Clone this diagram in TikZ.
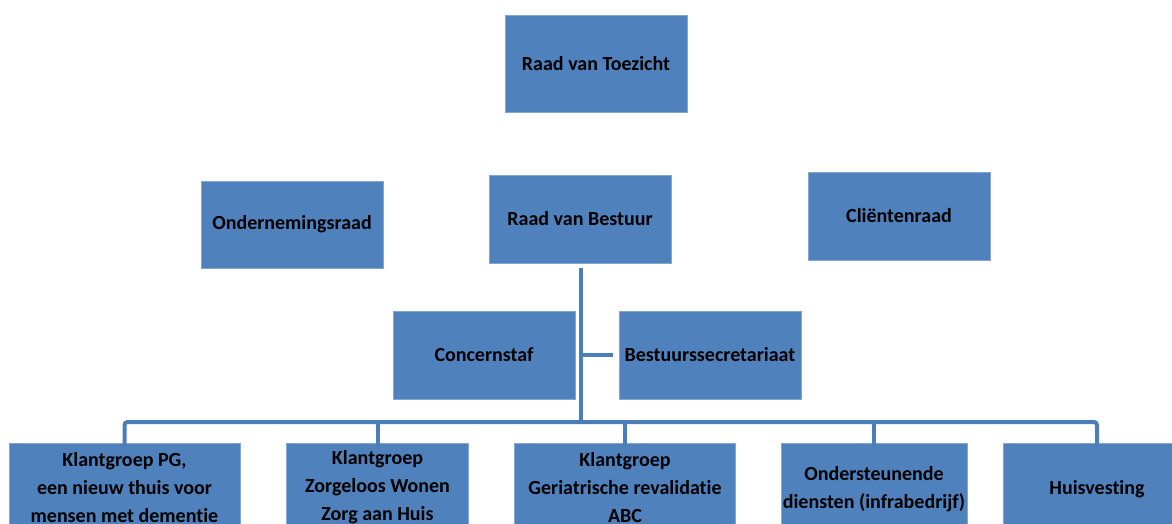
\documentclass[tikz,border=0pt]{standalone}
\usepackage{fontspec}
\setmainfont{Carlito}[Ligatures=NoCommon]
\definecolor{boxblue}{HTML}{4F81BD}
\definecolor{lineblue}{HTML}{4A7EBB}
\begin{document}
\begin{tikzpicture}[x=1pt,y=-1pt,
  box/.style={fill=boxblue, draw=boxblue!70!white, line width=0.6pt, inner sep=0pt,
    align=center, font=\bfseries\fontsize{20}{28}\selectfont, text=black},
  conn/.style={draw=lineblue, line width=4pt}]
\useasboundingbox (0,0) rectangle (1172,524);
\clip (0,0) rectangle (1172,524);
% top nodes
\node[box, minimum width=182pt, minimum height=97pt] (rvt) at (596,63.5) {Raad van Toezicht};
\node[box, minimum width=182pt, minimum height=87pt] (or) at (292,224.5) {Ondernemingsraad};
\node[box, minimum width=182pt, minimum height=88pt] (rvb) at (580,219) {Raad van Bestuur};
\node[box, minimum width=182pt, minimum height=88pt] (cr) at (899,216) {Cliëntenraad};
% staff
\node[box, minimum width=182pt, minimum height=88pt] (cs) at (484,355) {Concernstaf};
\node[box, minimum width=182pt, minimum height=88pt] (bs) at (710,355) {Bestuurssecretariaat};
% bottom row
\node[box, minimum width=231pt, minimum height=90pt] (k1) at (124.5,488) {Klantgroep PG,\\een nieuw thuis voor\\mensen met dementie};
\node[box, minimum width=182pt, minimum height=89pt] (k2) at (377.5,487.5) {Klantgroep\\Zorgeloos Wonen\\Zorg aan Huis};
\node[box, minimum width=221pt, minimum height=89pt] (k3) at (625,487.5) {Klantgroep\\Geriatrische revalidatie\\ABC};
\node[box, minimum width=186pt, minimum height=93pt] (k4) at (874,489.5) {Ondersteunende\\diensten (infrabedrijf)};
\node[box, minimum width=188pt, minimum height=92pt] (k5) at (1097,489) {Huisvesting};
% connectors
\coordinate (top) at (581,268);
\coordinate (bar) at (581,422);
\draw[conn] (top) -- (bar);
\draw[conn] (top |- bs.west) -- ([xshift=-6pt]bs.west);
\draw[conn, rounded corners=3pt] ([yshift=-4pt]k1.north) -- (k1.north |- bar) -- (k5.north |- bar) -- ([yshift=-4pt]k5.north);
\foreach \k in {k2,k3,k4}
  \draw[conn] (\k.north |- bar) -- ([yshift=-4pt]\k.north);
\end{tikzpicture}
\end{document}
